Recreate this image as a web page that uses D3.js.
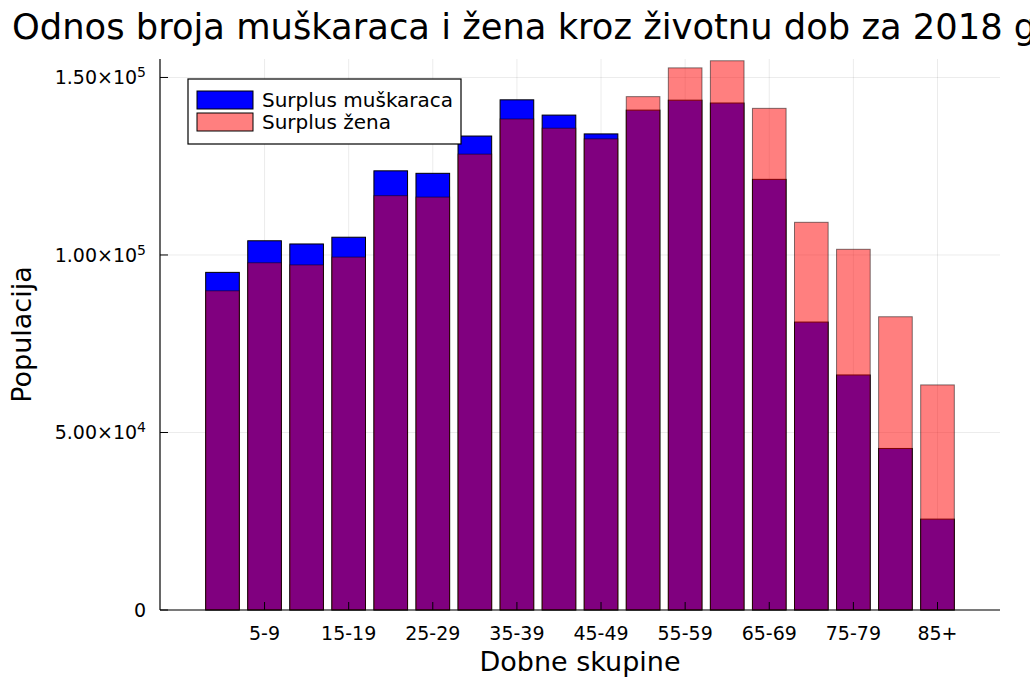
<!DOCTYPE html>
<html>
<head>
<meta charset="utf-8">
<script src="https://cdn.jsdelivr.net/npm/d3@7"></script>
<style>
  body { margin: 0; background: #fff; }
  text { font-family: "DejaVu Sans", sans-serif; fill: #000; }
</style>
</head>
<body>
<div class="chart"></div>
<script>
// age groups
const categories = ["0-4", "5-9", "10-14", "15-19", "20-24", "25-29", "30-34", "35-39", "40-44",
  "45-49", "50-54", "55-59", "60-64", "65-69", "70-74", "75-79", "80-84", "85+"];

// population per group
const males = [95100, 104000, 103100, 105000, 123700, 123000, 133500, 143700, 139400,
  134100, 140800, 143600, 142800, 121300, 81100, 66200, 45500, 25600];
const females = [89900, 97800, 97200, 99400, 116700, 116300, 128400, 138300, 135700,
  132700, 144600, 152700, 154700, 141300, 109200, 101600, 82600, 63400];

const xTickLabels = ["5-9", "15-19", "25-29", "35-39", "45-49", "55-59", "65-69", "75-79", "85+"];
const yTicks = [0, 50000, 100000, 150000];
const legendLabels = ["Surplus muškaraca", "Surplus žena"];

const W = 1030, H = 679;
const margin = { top: 59, right: 30, bottom: 69, left: 160 };
const width = W - margin.left - margin.right;
const height = H - margin.top - margin.bottom;

const svg = d3.select(".chart").append("svg")
  .attr("width", W)
  .attr("height", H);

const g = svg.append("g")
  .attr("transform", `translate(${margin.left}, ${margin.top})`);

// bars sit at integer positions, axis padded on both sides like the original
const x = d3.scaleLinear().domain([-1.486, 18.486]).range([0, width]);
const y = d3.scaleLinear().domain([0, 155200]).range([height, 0]);
const barW = x(0.8) - x(0);

// grid
g.append("g").selectAll("line.gy")
  .data(yTicks)
  .enter().append("line")
  .attr("x1", 0).attr("x2", width)
  .attr("y1", d => y(d)).attr("y2", d => y(d))
  .attr("stroke", "#000").attr("stroke-opacity", 0.08);

g.append("g").selectAll("line.gx")
  .data(xTickLabels)
  .enter().append("line")
  .attr("x1", d => x(categories.indexOf(d))).attr("x2", d => x(categories.indexOf(d)))
  .attr("y1", 0).attr("y2", height)
  .attr("stroke", "#000").attr("stroke-opacity", 0.08);

// male bars first, female bars half transparent on top
g.append("g").selectAll("rect")
  .data(males)
  .enter().append("rect")
  .attr("x", (d, i) => x(i) - barW / 2)
  .attr("width", barW)
  .attr("y", d => y(d))
  .attr("height", d => height - y(d))
  .attr("fill", "#0000ff")
  .attr("stroke", "#000")
  .attr("stroke-width", 1);

g.append("g").selectAll("rect")
  .data(females)
  .enter().append("rect")
  .attr("x", (d, i) => x(i) - barW / 2)
  .attr("width", barW)
  .attr("y", d => y(d))
  .attr("height", d => height - y(d))
  .attr("fill", "rgba(255,0,0,0.5)")
  .attr("stroke", "rgba(0,0,0,0.5)")
  .attr("stroke-width", 1);

// axes (ticks point inward)
const yAxis = g.append("g");
yAxis.append("line").attr("x1", 0).attr("x2", 0).attr("y1", 0).attr("y2", height)
  .attr("stroke", "#000").attr("stroke-width", 1.2);
yAxis.selectAll("line.t")
  .data(yTicks)
  .enter().append("line")
  .attr("x1", 0).attr("x2", 8)
  .attr("y1", d => y(d)).attr("y2", d => y(d))
  .attr("stroke", "#000");

function sciParts(v) {
  if (v === 0) return null;
  const e = Math.floor(Math.log10(v));
  return [(v / Math.pow(10, e)).toFixed(2), e];
}

const yLab = yAxis.selectAll("text")
  .data(yTicks)
  .enter().append("text")
  .attr("x", -14)
  .attr("y", d => y(d))
  .attr("dy", "0.35em")
  .attr("text-anchor", "end")
  .style("font-size", "19px");
yLab.each(function (d) {
  const t = d3.select(this);
  const p = sciParts(d);
  if (!p) { t.text("0"); return; }
  t.append("tspan").text(p[0] + "×10");
  t.append("tspan").attr("dy", "-0.5em").style("font-size", "14px").text(p[1]);
});

const xAxis = g.append("g").attr("transform", `translate(0, ${height})`);
xAxis.append("line").attr("x1", 0).attr("x2", width)
  .attr("stroke", "#000").attr("stroke-width", 1.2);
xAxis.selectAll("line.t")
  .data(xTickLabels)
  .enter().append("line")
  .attr("x1", d => x(categories.indexOf(d))).attr("x2", d => x(categories.indexOf(d)))
  .attr("y1", 0).attr("y2", -8)
  .attr("stroke", "#000");
xAxis.selectAll("text")
  .data(xTickLabels)
  .enter().append("text")
  .attr("x", d => x(categories.indexOf(d)))
  .attr("y", 30)
  .attr("text-anchor", "middle")
  .style("font-size", "19px")
  .text(d => d);

// axis titles
svg.append("text")
  .attr("x", margin.left + width / 2)
  .attr("y", 671)
  .attr("text-anchor", "middle")
  .style("font-size", "27px")
  .text("Dobne skupine");

svg.append("text")
  .attr("transform", `translate(31, ${margin.top + height / 2}) rotate(-90)`)
  .attr("text-anchor", "middle")
  .style("font-size", "27px")
  .text("Populacija");

// title (too wide, runs off the right edge like the original)
svg.append("text")
  .attr("x", 12)
  .attr("y", 39)
  .style("font-size", "35.3px")
  .text("Odnos broja muškaraca i žena kroz životnu dob za 2018 godinu");

// legend
const legend = svg.append("g").attr("transform", "translate(188, 79)");
legend.append("rect")
  .attr("width", 273).attr("height", 65)
  .attr("fill", "#fff").attr("stroke", "#000").attr("stroke-width", 1.2);
const legendFills = ["#0000ff", "rgba(255,0,0,0.5)"];
legendLabels.forEach((lab, i) => {
  legend.append("rect")
    .attr("x", 9).attr("y", 12 + i * 22)
    .attr("width", 56).attr("height", 18)
    .attr("fill", legendFills[i])
    .attr("stroke", "#000");
  legend.append("text")
    .attr("x", 74).attr("y", 21 + i * 22)
    .attr("dy", "0.35em")
    .style("font-size", "20px")
    .text(lab);
});
</script>
</body>
</html>
